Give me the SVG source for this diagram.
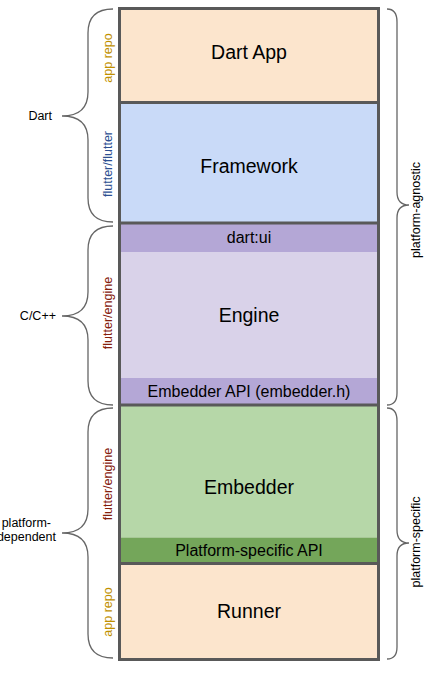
<svg xmlns="http://www.w3.org/2000/svg" width="446" height="674" viewBox="0 0 446 674">
<style>
.big{font-family:"Liberation Sans",Arial,sans-serif;font-size:19.5px;fill:#000;text-anchor:middle}
.mid{font-family:"Liberation Sans",Arial,sans-serif;font-size:16px;fill:#000;text-anchor:middle}
.lbl{font-family:"Liberation Sans",Arial,sans-serif;font-size:12.5px;fill:#000}
.vt{font-family:"Liberation Sans",Arial,sans-serif;font-size:12.5px;text-anchor:middle}
.brace{fill:none;stroke:#666;stroke-width:1.3}
.div{stroke:#595959;stroke-width:3}
</style>
<rect width="446" height="674" fill="#fff"/>
<g id="dart-app"><rect x="119.5" y="8.5" width="259" height="94" fill="#fce5cd"/><text class="big" x="249" y="59">Dart App</text></g>
<g id="framework"><rect x="119.5" y="102.5" width="259" height="120.5" fill="#c9daf8"/><text class="big" x="249" y="173">Framework</text></g>
<g id="dart-ui"><rect x="119.5" y="223" width="259" height="29" fill="#b4a7d6"/><text class="mid" x="249" y="243">dart:ui</text></g>
<g id="engine"><rect x="119.5" y="252" width="259" height="126" fill="#d9d2e9"/><text class="big" x="249" y="322">Engine</text></g>
<g id="embedder-api"><rect x="119.5" y="378" width="259" height="27" fill="#b4a7d6"/><text class="mid" x="249" y="397">Embedder API (embedder.h)</text></g>
<g id="embedder"><rect x="119.5" y="405" width="259" height="132.5" fill="#b6d7a8"/><text class="big" x="249" y="494">Embedder</text></g>
<g id="platform-api"><rect x="119.5" y="537.5" width="259" height="26" fill="#74a65a"/><text class="mid" x="249" y="556">Platform-specific API</text></g>
<g id="runner"><rect x="119.5" y="563.5" width="259" height="96" fill="#fce5cd"/><text class="big" x="249" y="618">Runner</text></g>
<g id="dividers">
<line class="div" x1="119.5" y1="102.5" x2="378.5" y2="102.5"/>
<line class="div" x1="119.5" y1="223" x2="378.5" y2="223"/>
<line class="div" x1="119.5" y1="405" x2="378.5" y2="405"/>
<line class="div" x1="119.5" y1="563.5" x2="378.5" y2="563.5"/>
<rect x="119.5" y="8.5" width="259" height="651" fill="none" stroke="#595959" stroke-width="3"/>
</g>
<g id="braces">
<path class="brace" d="M113,9 C96,9 88,17 88,33 L88,92 C88,107 80,116 62,116 C80,116 88,125 88,140 L88,198 C88,214 96,222 113,222"/>
<path class="brace" d="M113,226 C96,226 88,234 88,250 L88,292 C88,307 80,316 62,316 C80,316 88,325 88,340 L88,381 C88,397 96,405 113,405"/>
<path class="brace" d="M113,408 C96,408 88,416 88,432 L88,509 C88,524 80,533 62,533 C80,533 88,542 88,557 L88,634 C88,650 96,658 113,658"/>
<path class="brace" d="M387,9 C394,9 397,13 397,22 L397,192 C397,201 401,205 409,205 C401,205 397,209 397,218 L397,393 C397,401 394,405 387,405"/>
<path class="brace" d="M387,408 C394,408 397,412 397,421 L397,530 C397,539 401,543 409,543 C401,543 397,547 397,556 L397,647 C397,655 394,659 387,659"/>
</g>
<g id="labels">
<text class="lbl" x="52" y="120" text-anchor="end">Dart</text>
<text class="lbl" x="56" y="320" text-anchor="end">C/C++</text>
<text class="lbl" x="51" y="527" text-anchor="end">platform-</text>
<text class="lbl" x="56" y="541" text-anchor="end">dependent</text>
<text class="vt" fill="#bf9000" transform="translate(111.5,58) rotate(-90)">app repo</text>
<text class="vt" fill="#2d4f91" transform="translate(111.5,164) rotate(-90)">flutter/flutter</text>
<text class="vt" fill="#85200c" transform="translate(111.5,313) rotate(-90)">flutter/engine</text>
<text class="vt" fill="#85200c" transform="translate(111.5,484) rotate(-90)">flutter/engine</text>
<text class="vt" fill="#bf9000" transform="translate(111.5,612) rotate(-90)">app repo</text>
<text class="vt" fill="#000" transform="translate(420,210) rotate(-90)">platform-agnostic</text>
<text class="vt" fill="#000" transform="translate(420,542) rotate(-90)">platform-specific</text>
</g>
</svg>
